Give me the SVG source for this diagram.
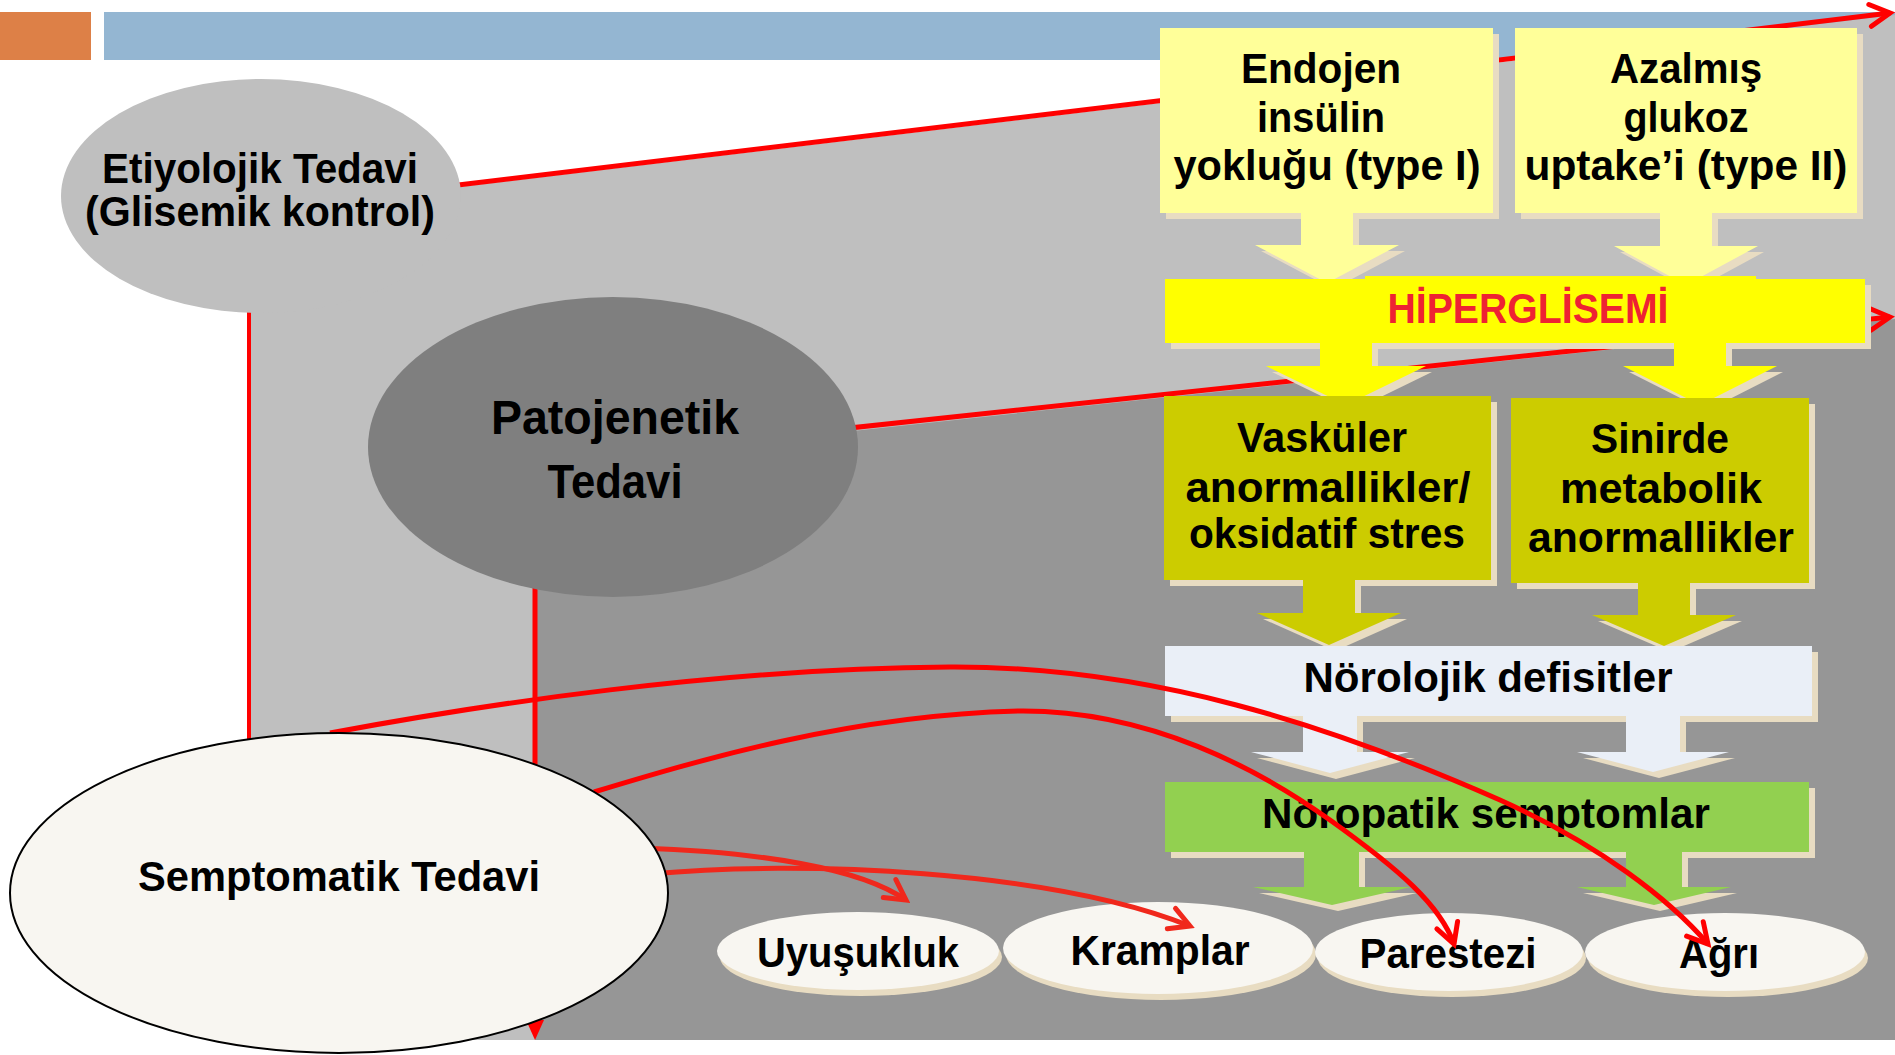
<svg xmlns="http://www.w3.org/2000/svg" width="1895" height="1055" viewBox="0 0 1895 1055">
<style>
  text { font-family: "Liberation Sans", Arial, sans-serif; font-weight: bold; fill: #000; text-anchor: middle; }
  .t40 { font-size: 42px; }
  .t46 { font-size: 48px; }
  .hyp { font-size: 42px; fill: #EE2233; }
  .sh { fill: #E8DCC2; }
  .ly { fill: #FFFF99; }
  .by { fill: #FFFF00; }
  .ol { fill: #CCCC00; }
  .lb { fill: #EAEFF7; }
  .gr { fill: #92D050; }
  .sym { fill: #F8F6F1; }
  .red { fill: none; stroke: #FF0000; stroke-width: 5; }
  .red2 { fill: none; stroke: #F0281C; stroke-width: 5; }
</style>
<defs>
  <marker id="arrRed" markerUnits="userSpaceOnUse" viewBox="0 0 30 30" markerWidth="30" markerHeight="30" refX="25" refY="15" orient="auto">
    <path d="M5,4 L25,15 L5,26" fill="none" stroke="#FF0000" stroke-width="5" stroke-linecap="round"/>
  </marker>
  <marker id="arrRed2" markerUnits="userSpaceOnUse" viewBox="0 0 30 30" markerWidth="30" markerHeight="30" refX="25" refY="15" orient="auto">
    <path d="M5,4 L25,15 L5,26" fill="none" stroke="#F0281C" stroke-width="5" stroke-linecap="round"/>
  </marker>
</defs>

<g id="background">
  <rect x="0" y="0" width="1895" height="1055" fill="#FFFFFF"/>
  <rect x="0" y="12" width="91" height="48" fill="#DD8047"/>
  <rect x="104" y="12" width="1791" height="48" fill="#94B6D2"/>
  <polygon points="250,212 1895,15 1895,1040 250,1040" fill="#BFBFBF"/>
  <polygon points="535,465 1895,319 1895,1040 535,1040" fill="#969696"/>
</g>

<g id="connectors">
  <path class="red" d="M300,204 L1890,13" marker-end="url(#arrRed)"/>
  <path class="red" d="M700,444 L1890,317" marker-end="url(#arrRed)"/>
  <line x1="249" y1="280" x2="249" y2="1040" stroke="#FF0000" stroke-width="4"/>
  <line x1="535" y1="560" x2="535" y2="1022" stroke="#FF0000" stroke-width="5"/>
  <polygon points="526,1020 544,1020 535,1040" fill="#FF0000"/>
</g>

<g id="flow-shadows">
  <rect class="sh" x="1166" y="34" width="333" height="185"/>
  <rect class="sh" x="1521" y="34" width="342" height="185"/>
  <rect class="sh" x="1171" y="285" width="700" height="64"/>
  <rect class="sh" x="1170" y="402" width="327" height="184"/>
  <rect class="sh" x="1517" y="404" width="298" height="185"/>
  <rect class="sh" x="1171" y="652" width="647" height="70"/>
  <rect class="sh" x="1171" y="788" width="644" height="70"/>
  <g transform="translate(6,6)">
    <path class="sh" d="M1301,210 L1353,210 L1353,245 L1399,245 L1327,283 L1255,245 L1301,245 Z"/>
    <path class="sh" d="M1660,210 L1712,210 L1712,246 L1758,246 L1686,285 L1614,246 L1660,246 Z"/>
    <path class="sh" d="M1320,340 L1372,340 L1372,366 L1426,366 L1346,405 L1266,366 L1320,366 Z"/>
    <path class="sh" d="M1674,340 L1726,340 L1726,366 L1777,366 L1700,405 L1623,366 L1674,366 Z"/>
    <path class="sh" d="M1303,577 L1355,577 L1355,613 L1401,613 L1329,645 L1257,613 L1303,613 Z"/>
    <path class="sh" d="M1638,580 L1690,580 L1690,615 L1736,615 L1664,646 L1592,615 L1638,615 Z"/>
    <path class="sh" d="M1303,713 L1357,713 L1357,752 L1409,752 L1330,773 L1251,752 L1303,752 Z"/>
    <path class="sh" d="M1626,713 L1680,713 L1680,752 L1729,752 L1653,772 L1577,752 L1626,752 Z"/>
    <path class="sh" d="M1304,849 L1359,849 L1359,887 L1411,887 L1332,905 L1253,887 L1304,887 Z"/>
    <path class="sh" d="M1626,849 L1682,849 L1682,887 L1731,887 L1654,905 L1577,887 L1626,887 Z"/>
  </g>
</g>

<g id="flow-arrows">
  <path class="ly" d="M1301,210 L1353,210 L1353,245 L1399,245 L1327,283 L1255,245 L1301,245 Z"/>
  <path class="ly" d="M1660,210 L1712,210 L1712,246 L1758,246 L1686,285 L1614,246 L1660,246 Z"/>
  <path class="by" d="M1320,340 L1372,340 L1372,366 L1426,366 L1346,405 L1266,366 L1320,366 Z"/>
  <path class="by" d="M1674,340 L1726,340 L1726,366 L1777,366 L1700,405 L1623,366 L1674,366 Z"/>
  <path class="ol" d="M1303,577 L1355,577 L1355,613 L1401,613 L1329,645 L1257,613 L1303,613 Z"/>
  <path class="ol" d="M1638,580 L1690,580 L1690,615 L1736,615 L1664,646 L1592,615 L1638,615 Z"/>
  <path class="lb" d="M1303,713 L1357,713 L1357,752 L1409,752 L1330,773 L1251,752 L1303,752 Z"/>
  <path class="lb" d="M1626,713 L1680,713 L1680,752 L1729,752 L1653,772 L1577,752 L1626,752 Z"/>
  <path class="gr" d="M1304,849 L1359,849 L1359,887 L1411,887 L1332,905 L1253,887 L1304,887 Z"/>
  <path class="gr" d="M1626,849 L1682,849 L1682,887 L1731,887 L1654,905 L1577,887 L1626,887 Z"/>
</g>

<g id="node-endojen">
  <rect class="ly" x="1160" y="28" width="333" height="185"/>
  <text class="t40" x="1321" y="83" textLength="160" lengthAdjust="spacingAndGlyphs">Endojen</text>
  <text class="t40" x="1321" y="132" textLength="128" lengthAdjust="spacingAndGlyphs">insülin</text>
  <text class="t40" x="1327" y="180" textLength="307" lengthAdjust="spacingAndGlyphs">yokluğu (type I)</text>
</g>
<g id="node-azalmis">
  <rect class="ly" x="1515" y="28" width="342" height="185"/>
  <text class="t40" x="1686" y="83" textLength="152" lengthAdjust="spacingAndGlyphs">Azalmış</text>
  <text class="t40" x="1686" y="132" textLength="125" lengthAdjust="spacingAndGlyphs">glukoz</text>
  <text class="t40" x="1686" y="180" textLength="323" lengthAdjust="spacingAndGlyphs">uptake’i (type II)</text>
</g>
<g id="node-hiperglisemi">
  <rect class="by" x="1165" y="279" width="700" height="64"/>
  <rect class="by" x="1365" y="276" width="391" height="66"/>
  <text class="hyp" x="1528" y="323" textLength="281" lengthAdjust="spacingAndGlyphs">HİPERGLİSEMİ</text>
</g>
<g id="node-vaskuler">
  <rect class="ol" x="1164" y="396" width="327" height="184"/>
  <text class="t40" x="1322" y="452" textLength="170" lengthAdjust="spacingAndGlyphs">Vasküler</text>
  <text class="t40" x="1328" y="502" textLength="285" lengthAdjust="spacingAndGlyphs">anormallikler/</text>
  <text class="t40" x="1327" y="548" textLength="276" lengthAdjust="spacingAndGlyphs">oksidatif stres</text>
</g>
<g id="node-sinirde">
  <rect class="ol" x="1511" y="398" width="298" height="185"/>
  <text class="t40" x="1660" y="453" textLength="138" lengthAdjust="spacingAndGlyphs">Sinirde</text>
  <text class="t40" x="1661" y="503" textLength="202" lengthAdjust="spacingAndGlyphs">metabolik</text>
  <text class="t40" x="1661" y="552" textLength="266" lengthAdjust="spacingAndGlyphs">anormallikler</text>
</g>
<g id="node-norolojik">
  <rect class="lb" x="1165" y="646" width="647" height="70"/>
  <text class="t40" x="1488" y="692" textLength="369" lengthAdjust="spacingAndGlyphs">Nörolojik defisitler</text>
</g>
<g id="node-noropatik">
  <rect class="gr" x="1165" y="782" width="644" height="70"/>
  <text class="t40" x="1486" y="828" textLength="448" lengthAdjust="spacingAndGlyphs">Nöropatik semptomlar</text>
</g>

<g id="node-uyusukluk">
  <ellipse class="sh" cx="861" cy="957" rx="141" ry="39"/>
  <ellipse class="sym" cx="858" cy="951" rx="141" ry="39"/>
  <text class="t40" x="858" y="967" textLength="202" lengthAdjust="spacingAndGlyphs">Uyuşukluk</text>
</g>
<g id="node-kramplar">
  <ellipse class="sh" cx="1161" cy="954" rx="155" ry="46"/>
  <ellipse class="sym" cx="1158" cy="948" rx="155" ry="46"/>
  <text class="t40" x="1160" y="965" textLength="179" lengthAdjust="spacingAndGlyphs">Kramplar</text>
</g>
<g id="node-parestezi">
  <ellipse class="sh" cx="1452" cy="958" rx="134" ry="39"/>
  <ellipse class="sym" cx="1449" cy="952" rx="134" ry="39"/>
  <text class="t40" x="1448" y="968" textLength="177" lengthAdjust="spacingAndGlyphs">Parestezi</text>
</g>
<g id="node-agri">
  <ellipse class="sh" cx="1728" cy="958" rx="140" ry="39"/>
  <ellipse class="sym" cx="1725" cy="952" rx="140" ry="39"/>
  <text class="t40" x="1719" y="968" textLength="80" lengthAdjust="spacingAndGlyphs">Ağrı</text>
</g>

<g id="connectors-symptomatic">
  <path class="red" d="M330,733 C480,705 720,668 950,667 C1150,666 1330,725 1500,800 C1600,845 1670,900 1708,944" marker-end="url(#arrRed)"/>
  <path class="red" d="M594,792 C700,760 850,715 1020,711 C1150,710 1260,770 1330,820 C1400,870 1440,905 1454,944" marker-end="url(#arrRed)"/>
  <path class="red2" d="M640,848 C760,852 860,868 906,900" marker-end="url(#arrRed2)"/>
  <path class="red2" d="M650,874 C800,860 1050,870 1190,926" marker-end="url(#arrRed2)"/>
</g>

<g id="node-etiyolojik">
  <ellipse cx="261" cy="196" rx="200" ry="117" fill="#BFBFBF"/>
  <text class="t40" x="260" y="183" textLength="316" lengthAdjust="spacingAndGlyphs">Etiyolojik Tedavi</text>
  <text class="t40" x="260" y="226" textLength="350" lengthAdjust="spacingAndGlyphs">(Glisemik kontrol)</text>
</g>
<g id="node-patojenetik">
  <ellipse cx="613" cy="447" rx="245" ry="150" fill="#7F7F7F"/>
  <text class="t46" x="615" y="434" textLength="248" lengthAdjust="spacingAndGlyphs">Patojenetik</text>
  <text class="t46" x="615" y="498" textLength="135" lengthAdjust="spacingAndGlyphs">Tedavi</text>
</g>
<g id="node-semptomatik">
  <ellipse cx="339" cy="893" rx="329" ry="160" fill="#F8F6F1" stroke="#000000" stroke-width="2"/>
  <text class="t40" x="339" y="891" textLength="402" lengthAdjust="spacingAndGlyphs">Semptomatik Tedavi</text>
</g>
</svg>
